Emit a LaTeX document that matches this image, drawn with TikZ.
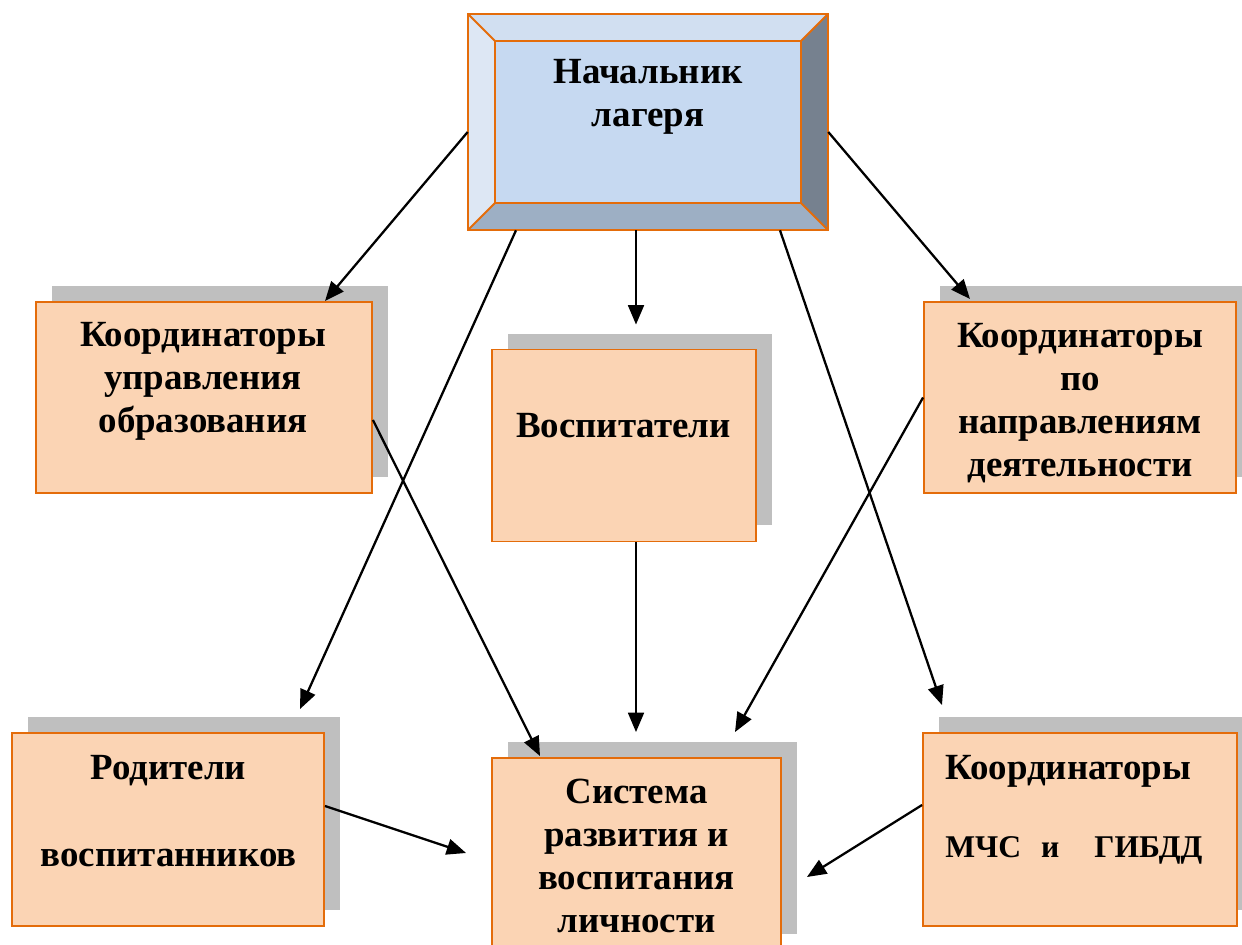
\documentclass[tikz,border=0pt]{standalone}
\usepackage{fontspec}
\setmainfont{Liberation Serif}
\usetikzlibrary{arrows.meta,shadows,calc}

\definecolor{boxline}{RGB}{228,108,10}
\definecolor{boxfill}{RGB}{251,212,180}
\definecolor{shgray}{RGB}{191,191,191}
\definecolor{chieffill}{RGB}{198,217,241}
\definecolor{bevtop}{RGB}{209,223,241}
\definecolor{bevleft}{RGB}{221,231,244}
\definecolor{bevright}{RGB}{118,129,143}
\definecolor{bevbot}{RGB}{157,175,196}

\begin{document}
\begin{tikzpicture}[x=0.02cm,y=-0.02cm,
    box/.style={draw=boxline, line width=1.1pt, fill=boxfill, inner sep=0pt,
      drop shadow={shadow xshift=0.32cm, shadow yshift=0.32cm, fill=shgray, opacity=1}},
    lbl/.style={align=center, inner sep=0pt, font=\fontsize{21}{24.5}\selectfont\bfseries},
    arr/.style={line width=1.3pt, -{Triangle[length=11pt,width=9pt]}}]
        \useasboundingbox (0,0) rectangle (1242,945);

        % head of the camp
        \node[inner sep=0pt, minimum width=7.2cm, minimum height=4.32cm] (chief) at (648,122) {};
        \node[inner sep=0pt, minimum width=6.12cm, minimum height=3.24cm] (chiefIn) at (648,122) {};
        \fill[bevtop] (chief.north west) -- (chief.north east) -- (chiefIn.north east) -- (chiefIn.north west) -- cycle;
        \fill[bevright] (chief.north east) -- (chief.south east) -- (chiefIn.south east) -- (chiefIn.north east) -- cycle;
        \fill[bevbot] (chief.south east) -- (chief.south west) -- (chiefIn.south west) -- (chiefIn.south east) -- cycle;
        \fill[bevleft] (chief.south west) -- (chief.north west) -- (chiefIn.north west) -- (chiefIn.south west) -- cycle;
        \fill[chieffill] (chiefIn.north west) rectangle (chiefIn.south east);
        \draw[boxline, line width=1.1pt] (chief.north west) rectangle (chief.south east);
        \draw[boxline, line width=1.1pt] (chiefIn.north west) rectangle (chiefIn.south east);
        \foreach \c in {north west,north east,south west,south east}
          \draw[boxline, line width=1.1pt] (chief.\c) -- (chiefIn.\c);
        \node[lbl] (tChief) at (648,97) {Начальник\\лагеря};

        % boxes
        \node[box, minimum width=6.72cm, minimum height=3.82cm] (coordEdu) at (204,397.5) {};
        \node[lbl] (tEdu) at (203,381) {Координаторы\\управления\\образования};
        \node[box, minimum width=5.28cm, minimum height=3.84cm] (tutors) at (624,445.5) {};
        \node[lbl] (tTutors) at (623.5,425.5) {Воспитатели};
        \node[box, minimum width=6.24cm, minimum height=3.82cm] (coordDir) at (1080,397.5) {};
        \node[lbl] (tDir) at (1080,403) {Координаторы\\по\\направлениям\\деятельности};
        \node[box, minimum width=6.24cm, minimum height=3.86cm] (parents) at (168,829.5) {};
        \node[lbl] (tParents) at (168.5,811) {Родители\\[25pt]воспитанников};
        \node[box, minimum width=5.78cm, minimum height=3.84cm] (system) at (636.5,854) {};
        \node[lbl] (tSystem) at (636.5,856) {Система\\развития и\\воспитания\\личности};
        \node[box, minimum width=6.28cm, minimum height=3.86cm] (coordSafe) at (1080,829.5) {};
        \node[lbl, align=left, anchor=north west] (tSafe) at (945,755)
          {Координаторы\\[20pt]{\fontsize{18}{21}\selectfont МЧС\hspace{0.4cm}и\hspace{0.7cm}ГИБДД}};

        % arrows
        \draw[arr] ($(chief.west)+(0,10)$) -- ($(coordEdu.north)+(121,0)$);
        \draw[arr] ($(chief.south)+(-132,0)$) -- ($(parents.north)+(132,-23)$);
        \draw[arr] ($(chief.south)+(-12,0)$) -- ($(tutors.north)+(12,-24)$);
        \draw[arr] ($(chief.south)+(132,0)$) -- ($(coordSafe.north)+(-138,-27)$);
        \draw[arr] ($(chief.east)+(0,10)$) -- ($(coordDir.north)+(-110,-2)$);
        \draw[arr] ($(coordEdu.east)+(0,22.5)$) -- ($(system.north)+(-96.5,-1)$);
        \draw[arr] ($(tutors.south)+(12,0)$) -- ($(system.north)+(-0.5,-25)$);
        \draw[arr] (coordDir.west) -- ($(system.north)+(98.5,-25)$);
        \draw[arr] ($(parents.east)+(0,-23.5)$) -- ($(system.west)+(-25,-1)$);
        \draw[arr] ($(coordSafe.west)+(0,-24.5)$) -- ($(system.east)+(25,23)$);
\end{tikzpicture}
\end{document}
